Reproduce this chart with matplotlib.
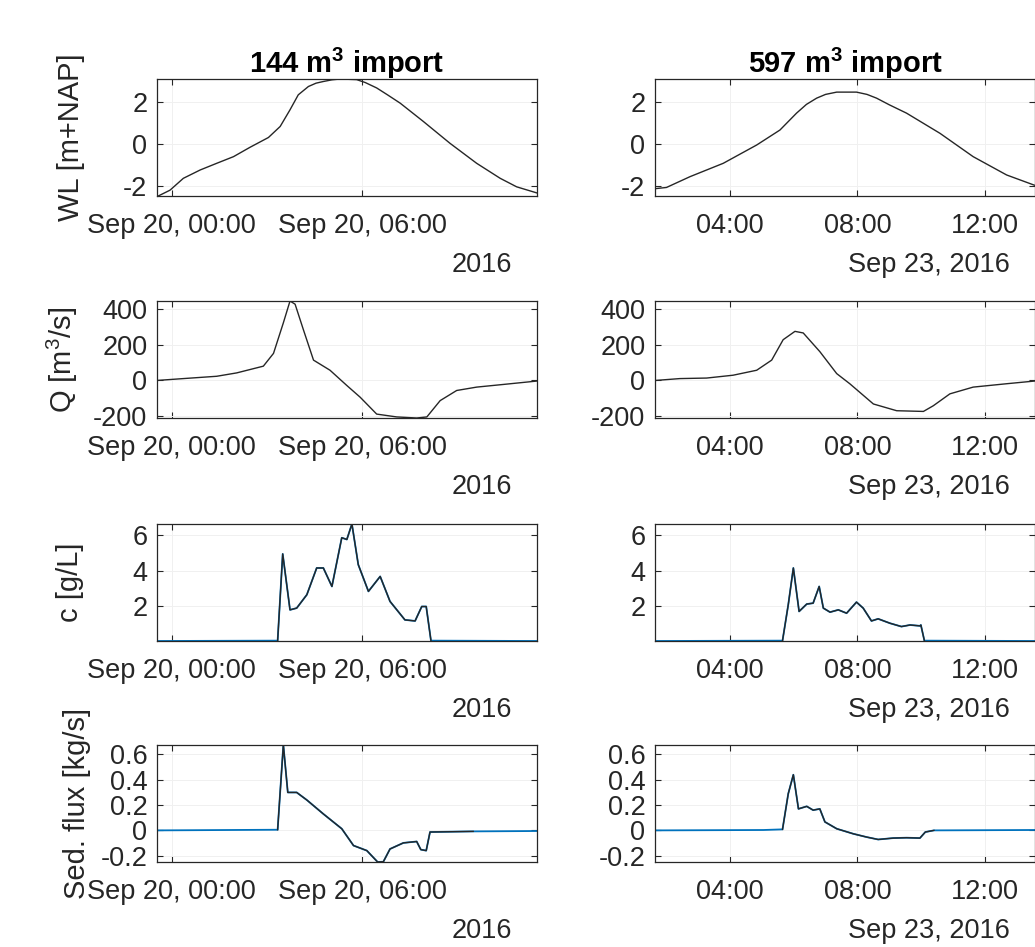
import datetime as dt
import matplotlib
matplotlib.use("Agg")
import matplotlib.pyplot as plt
import matplotlib.dates as mdates

plt.rcParams["font.family"] = ["Liberation Sans", "DejaVu Sans"]
plt.rcParams["mathtext.fontset"] = "custom"
plt.rcParams["mathtext.rm"] = "Liberation Sans"
plt.rcParams["mathtext.bf"] = "Liberation Sans:bold"
plt.rcParams["axes.unicode_minus"] = False

# ---------------- data (time in hours after midnight of the event day) ----------------
titles = [r"144 m$^{\mathbf{3}}$ import", r"597 m$^{\mathbf{3}}$ import"]
day_left = dt.datetime(2016, 9, 20)
day_right = dt.datetime(2016, 9, 23)

# water level [m+NAP]
wl_t_left = [-0.42, -0.05, 0.37, 0.9, 1.42, 1.95, 2.47, 3.05, 3.42, 3.73, 3.99, 4.31, 4.55,
             4.78, 5.05, 5.31, 5.83, 6.1, 6.46, 6.8, 7.2, 7.93, 8.77, 9.61, 10.35, 10.87, 11.5]
wl_v_left = [-2.5, -2.22, -1.65, -1.25, -0.93, -0.61, -0.16, 0.31, 0.84, 1.64, 2.36, 2.76, 2.92,
             3.0, 3.08, 3.12, 3.09, 2.95, 2.69, 2.36, 1.96, 1.08, 0.03, -0.93, -1.65, -2.06, -2.35]
wl_t_right = [1.70, 2.01, 2.75, 3.79, 4.84, 5.57, 6.09, 6.4, 6.72, 7.0, 7.35, 7.97, 8.3, 8.6,
              9.0, 9.54, 10.59, 11.63, 12.68, 13.55]
wl_v_right = [-2.14, -2.09, -1.57, -0.93, -0.05, 0.67, 1.48, 1.9, 2.2, 2.38, 2.49, 2.49, 2.38, 2.2,
              1.88, 1.48, 0.51, -0.61, -1.49, -1.98]

# discharge [m3/s]
q_t_left = [-0.42, 0.37, 1.42, 2.05, 2.89, 3.21, 3.52, 3.73, 3.89, 4.15, 4.47, 4.99, 5.52,
            5.94, 6.46, 7.09, 7.72, 8.04, 8.46, 8.98, 9.61, 10.45, 11.5]
q_v_left = [0, 10, 23, 42, 80, 152, 324, 447, 429, 286, 114, 57, -29,
            -95, -190, -206, -212, -206, -114, -57, -38, -23, -4]
q_t_right = [1.70, 2.43, 3.27, 4.1, 4.84, 5.31, 5.67, 6.04, 6.3, 6.82, 7.35, 7.76, 8.5,
             9.23, 10.07, 10.38, 10.9, 11.63, 12.68, 13.55]
q_v_right = [0, 10, 13, 29, 57, 114, 229, 276, 267, 162, 38, -19, -133,
             -171, -175, -143, -76, -38, -19, -4]

# sediment concentration [g/L]
c_t_left = [-0.42, 3.34, 3.50, 3.73, 3.94, 4.26, 4.57, 4.78, 5.05, 5.36, 5.52, 5.68, 5.88,
            6.2, 6.57, 6.88, 7.35, 7.67, 7.88, 8.02, 8.17, 11.5]
c_v_left = [0, 0.02, 4.95, 1.77, 1.87, 2.63, 4.15, 4.15, 3.1, 5.87, 5.77, 6.65, 4.34,
            2.82, 3.67, 2.25, 1.2, 1.14, 1.96, 1.96, 0.02, 0]
c_t_right = [1.70, 5.65, 5.83, 5.99, 6.17, 6.41, 6.61, 6.8, 6.93, 7.14, 7.4, 7.66, 7.97,
             8.18, 8.44, 8.65, 9.02, 9.38, 9.65, 9.96, 9.99, 10.1, 13.55]
c_v_right = [0, 0.02, 2.06, 4.15, 1.68, 2.1, 2.15, 3.1, 1.87, 1.64, 1.77, 1.58, 2.21,
             1.87, 1.14, 1.26, 1.01, 0.82, 0.91, 0.86, 0.91, 0.02, 0]

# sediment flux [kg/s]
f_t_left = [-0.42, 3.34, 3.52, 3.66, 3.94, 4.26, 4.78, 5.36, 5.73, 6.15, 6.49, 6.67, 6.88,
            7.30, 7.72, 7.85, 8.02, 8.14, 9.5, 11.5]
f_v_left = [0, 0.005, 0.675, 0.30, 0.30, 0.24, 0.13, 0.013, -0.12, -0.16, -0.25, -0.248, -0.147,
            -0.099, -0.088, -0.152, -0.16, -0.013, -0.008, -0.005]
f_t_right = [1.70, 5.05, 5.65, 5.83, 5.99, 6.15, 6.41, 6.61, 6.82, 6.98, 7.35, 7.87, 8.29,
             8.65, 9.12, 9.54, 9.96, 10.13, 10.4, 13.55]
f_v_right = [0, 0.003, 0.008, 0.29, 0.44, 0.17, 0.19, 0.16, 0.17, 0.067, 0.013, -0.027, -0.053,
             -0.072, -0.061, -0.058, -0.061, -0.013, 0.0, 0.003]

ylabels = ["WL [m+NAP]", r"Q [m$^3$/s]", "c [g/L]", "Sed. flux [kg/s]"]
yticks = [[-2, 0, 2], [-200, 0, 200, 400], [2, 4, 6], [-0.2, 0, 0.2, 0.4, 0.6]]
ytick_labels = [["-2", "0", "2"], ["-200", "0", "200", "400"], ["2", "4", "6"],
                ["-0.2", "0", "0.2", "0.4", "0.6"]]
xlim_left = (-0.46, 11.51)
xlim_right = (1.65, 13.57)
xticks_left = [0, 6]
xtick_labels_left = ["Sep 20, 00:00", "Sep 20, 06:00"]
xticks_right = [4, 8, 12]
xtick_labels_right = ["04:00", "08:00", "12:00"]
sub_labels = ["2016", "Sep 23, 2016"]

series = [
    ((wl_t_left, wl_v_left), (wl_t_right, wl_v_right), False),
    ((q_t_left, q_v_left), (q_t_right, q_v_right), False),
    ((c_t_left, c_v_left), (c_t_right, c_v_right), True),
    ((f_t_left, f_v_left), (f_t_right, f_v_right), True),
]


def to_dates(day, hours):
    return [day + dt.timedelta(hours=h) for h in hours]


# ---------------- figure ----------------
W, H = 1035, 947
fig = plt.figure(figsize=(W / 100, H / 100), dpi=100)

col_x = [157, 655]
ax_w = 380
row_top = [79, 301, 524, 745]
ax_h = 117
ylabel_x = [71, 62, 70, 77]

dark = "#262626"
blue = "#0072BD"
tick_fs = 19.5
label_fs = 21

for r in range(4):
    left_data, right_data, has_blue = series[r]
    all_v = list(left_data[1]) + list(right_data[1])
    ylim = (min(all_v), max(all_v))
    thresh = 0.01 * (ylim[1] - ylim[0])
    for c in range(2):
        x0 = col_x[c]
        ax = fig.add_axes([x0 / W, 1 - (row_top[r] + ax_h) / H, ax_w / W, ax_h / H])
        day = day_left if c == 0 else day_right
        t, v = left_data if c == 0 else right_data
        d = to_dates(day, t)
        if has_blue:
            ax.plot(d, v, color=blue, lw=1.3, zorder=2)
            # active part of the event drawn in dark on top
            nz = [i for i, val in enumerate(v) if abs(val) > thresh]
            i0, i1 = nz[0] - 1, nz[-1] + 1
            ax.plot(d[i0:i1 + 1], v[i0:i1 + 1], color=dark, lw=1.0, zorder=3)
        else:
            ax.plot(d, v, color=dark, lw=1.0)

        xl = xlim_left if c == 0 else xlim_right
        ax.set_xlim(mdates.date2num(day + dt.timedelta(hours=xl[0])),
                    mdates.date2num(day + dt.timedelta(hours=xl[1])))
        ax.set_ylim(*ylim)

        if c == 0:
            xt, xtl = xticks_left, xtick_labels_left
        else:
            xt, xtl = xticks_right, xtick_labels_right
        ax.set_xticks([mdates.date2num(day + dt.timedelta(hours=h)) for h in xt])
        ax.set_xticklabels(xtl)
        ax.set_yticks(yticks[r])
        ax.set_yticklabels(ytick_labels[r])

        ax.tick_params(direction="in", length=4, width=0.8, colors=dark,
                       labelsize=tick_fs, top=True, right=True)
        ax.tick_params(axis="x", pad=12)
        ax.tick_params(axis="y", pad=7)
        for sp in ax.spines.values():
            sp.set_color(dark)
            sp.set_linewidth(0.9)
        ax.grid(True, color="#f0f0f0", lw=0.7, zorder=0)
        ax.set_axisbelow(True)

        ax.annotate(sub_labels[c], xy=(1, 0), xycoords="axes fraction",
                    xytext=(-18, -40), textcoords="offset points",
                    ha="right", va="top", fontsize=tick_fs, color=dark)

        if r == 0:
            ax.set_title(titles[c], fontsize=label_fs, fontweight="bold",
                         color="black", pad=4)

    fig.text(ylabel_x[r] / W, 1 - (row_top[r] + ax_h / 2) / H, ylabels[r],
             rotation=90, ha="center", va="center", fontsize=label_fs, color=dark)

fig.savefig("out.png", dpi=100)
